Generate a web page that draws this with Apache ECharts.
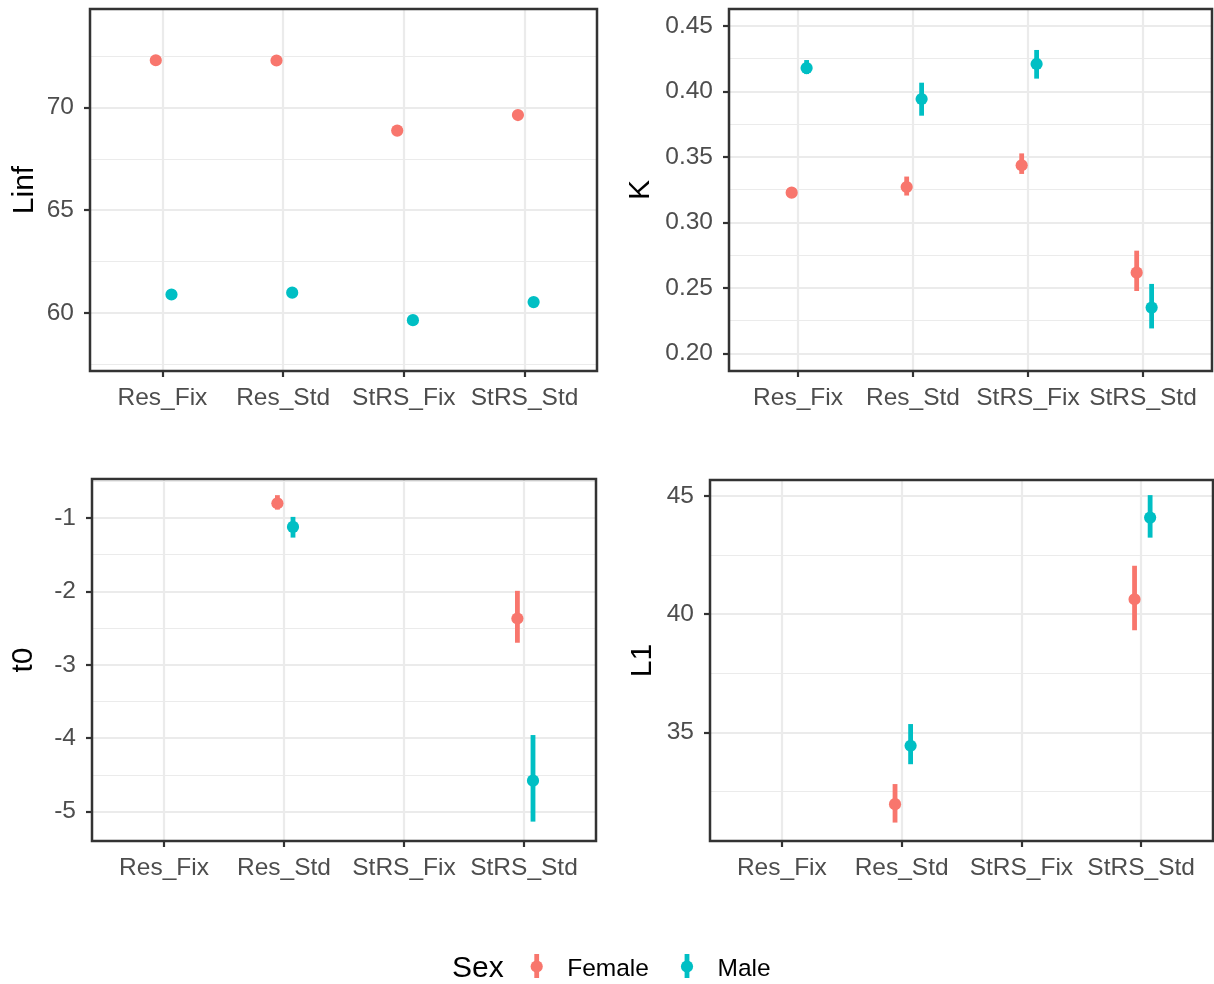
<!DOCTYPE html>
<html>
<head>
<meta charset="utf-8">
<title>Growth parameter estimates by method and sex</title>
<script src="https://cdn.jsdelivr.net/npm/echarts@6/dist/echarts.min.js"></script>
<style>
  html, body { margin: 0; padding: 0; background: #ffffff; }
  #chart { width: 1214px; height: 984px; }
</style>
</head>
<body>
<div id="chart"></div>
<script>
// Estimation methods (x categories)
const methods = ['Res_Fix', 'Res_Std', 'StRS_Fix', 'StRS_Std'];
const sexes = ['Female', 'Male'];

// Linf estimates
const linfFemale = [72.31, 72.30, 68.88, 69.64];
const linfMale   = [60.89, 60.98, 59.64, 60.52];

// K estimates with interval bounds
const kFemale     = [0.3227, 0.3270, 0.3436, 0.2616];
const kFemaleLow  = [0.3205, 0.3205, 0.3370, 0.2476];
const kFemaleHigh = [0.3250, 0.3350, 0.3527, 0.2784];
const kMale       = [0.4179, 0.3942, 0.4210, 0.2349];
const kMaleLow    = [0.4133, 0.3815, 0.4098, 0.2190];
const kMaleHigh   = [0.4240, 0.4067, 0.4317, 0.2530];

// t0 estimates with interval bounds (only the Std methods estimate it)
const t0Female     = [null, -0.800, null, -2.370];
const t0FemaleLow  = [null, -0.887, null, -2.700];
const t0FemaleHigh = [null, -0.690, null, -1.993];
const t0Male       = [null, -1.122, null, -4.578];
const t0MaleLow    = [null, -1.268, null, -5.136];
const t0MaleHigh   = [null, -0.986, null, -3.957];

// L1 estimates with interval bounds
const l1Female     = [null, 31.96, null, 40.63];
const l1FemaleLow  = [null, 31.18, null, 39.32];
const l1FemaleHigh = [null, 32.81, null, 42.05];
const l1Male       = [null, 34.43, null, 44.09];
const l1MaleLow    = [null, 33.65, null, 43.24];
const l1MaleHigh   = [null, 35.35, null, 45.04];

// Tick labels of each y axis
const linfTicks = [60, 65, 70];
const kTicks    = [0.20, 0.25, 0.30, 0.35, 0.40, 0.45];
const t0Ticks   = [-5, -4, -3, -2, -1];
const l1Ticks   = [35, 40, 45];

const sexColors = { Female: '#F8766D', Male: '#00BFC4' };
const dodge = { Female: -0.055, Male: 0.075 };
const FONT = '"Liberation Sans", Arial, Helvetica, sans-serif';
const TICK_FONT = 24.5;
const TITLE_FONT = 30;
const POINT_R = 6.1;
const BAR_W = 4.8;

const panels = [
  { name: 'Linf', rect: [90, 9, 507, 362], range: [57.16, 74.81], ticks: linfTicks, digits: 0, nameGap: 50,
    series: { Female: [linfFemale], Male: [linfMale] } },
  { name: 'K', rect: [729, 9, 483, 362], range: [0.18648, 0.46299], ticks: kTicks, digits: 2, nameGap: 73,
    series: { Female: [kFemale, kFemaleLow, kFemaleHigh], Male: [kMale, kMaleLow, kMaleHigh] } },
  { name: 't0', rect: [92, 479, 504, 362], range: [-5.40, -0.47], ticks: t0Ticks, digits: 0, nameGap: 53,
    series: { Female: [t0Female, t0FemaleLow, t0FemaleHigh], Male: [t0Male, t0MaleLow, t0MaleHigh] } },
  { name: 'L1', rect: [710, 480, 503, 361], range: [30.4, 45.68], ticks: l1Ticks, digits: 0, nameGap: 52,
    series: { Female: [l1Female, l1FemaleLow, l1FemaleHigh], Male: [l1Male, l1MaleLow, l1MaleHigh] } }
];

// Minor grid positions halfway between major ticks, kept inside the axis range
function minorBreaks(ticks, range) {
  const step = ticks[1] - ticks[0];
  const out = [];
  const ext = [ticks[0] - step].concat(ticks, [ticks[ticks.length - 1] + step]);
  for (let i = 0; i < ext.length - 1; i++) {
    const m = (ext[i] + ext[i + 1]) / 2;
    if (m > range[0] && m < range[1]) out.push(+m.toFixed(6));
  }
  return out;
}

// Point with a vertical interval bar, shifted sideways by the dodge offset
function pointRange(offset, color) {
  return function (params, api) {
    const x = api.value(0) + offset;
    const mid = api.coord([x, api.value(1)]);
    const children = [];
    const lo = api.value(2), hi = api.value(3);
    if (isFinite(lo) && isFinite(hi)) {
      const a = api.coord([x, lo]);
      const b = api.coord([x, hi]);
      children.push({
        type: 'line',
        shape: { x1: a[0], y1: a[1], x2: b[0], y2: b[1] },
        style: { stroke: color, lineWidth: BAR_W, lineCap: 'butt' }
      });
    }
    children.push({
      type: 'circle',
      shape: { cx: mid[0], cy: mid[1], r: POINT_R },
      style: { fill: color }
    });
    return { type: 'group', children: children };
  };
}

const grid = [], xAxis = [], yAxis = [], series = [], graphic = [];

panels.forEach(function (p, i) {
  const [left, top, width, height] = p.rect;
  grid.push({ left: left, top: top, width: width, height: height, show: false,
    containLabel: false, outerBoundsMode: 'none' });

  xAxis.push({
    gridIndex: i, type: 'value', min: -0.6, max: 3.6, position: 'bottom',
    axisLine: { show: false },
    axisTick: { show: true, length: 6, customValues: [0, 1, 2, 3],
      lineStyle: { color: '#333333', width: 2.2 } },
    axisLabel: { show: true, customValues: [0, 1, 2, 3], margin: 15,
      formatter: function (v) { return methods[Math.round(v)]; },
      color: '#4D4D4D', fontSize: TICK_FONT, fontFamily: FONT },
    splitLine: { show: true, lineStyle: { color: '#EBEBEB', width: 2.2 } }
  });

  // minor horizontal grid
  yAxis.push({
    gridIndex: i, type: 'value', min: p.range[0], max: p.range[1], position: 'left',
    axisLine: { show: false },
    axisTick: { show: false, customValues: minorBreaks(p.ticks, p.range) },
    axisLabel: { show: false, customValues: minorBreaks(p.ticks, p.range) },
    splitLine: { show: true, lineStyle: { color: '#EBEBEB', width: 1.2 } }
  });
  // major axis
  yAxis.push({
    gridIndex: i, type: 'value', min: p.range[0], max: p.range[1], position: 'left', offset: 0,
    name: p.name, nameLocation: 'middle', nameGap: p.nameGap,
    nameTextStyle: { color: '#000000', fontSize: TITLE_FONT, fontFamily: FONT },
    axisLine: { show: false },
    axisTick: { show: true, length: 6, customValues: p.ticks,
      lineStyle: { color: '#333333', width: 2.2 } },
    axisLabel: { show: true, customValues: p.ticks, margin: 16,
      formatter: function (v) { return v.toFixed(p.digits); },
      color: '#4D4D4D', fontSize: TICK_FONT, fontFamily: FONT },
    splitLine: { show: true, lineStyle: { color: '#EBEBEB', width: 2.2 } }
  });

  sexes.forEach(function (sex) {
    const cols = p.series[sex];
    const data = [];
    methods.forEach(function (m, j) {
      const est = cols[0][j];
      if (est === null || est === undefined) return;
      const lo = cols[1] ? cols[1][j] : NaN;
      const hi = cols[2] ? cols[2][j] : NaN;
      data.push([j, est, lo, hi]);
    });
    series.push({
      name: sex, type: 'custom',
      xAxisIndex: i, yAxisIndex: 2 * i + 1,
      renderItem: pointRange(dodge[sex], sexColors[sex]),
      encode: { x: 0, y: [1, 2, 3] },
      itemStyle: { color: sexColors[sex] },
      data: data, z: 5, silent: true
    });
  });

  // panel frame
  graphic.push({
    type: 'rect', z: 50,
    shape: { x: left, y: top, width: width, height: height },
    style: { fill: null, stroke: '#333333', lineWidth: 2.5 }
  });
});

// Legend: "Sex" with a point-range key per level
const legendX = { Female: 536.7, Male: 687 };
graphic.push({
  type: 'text', z: 50, x: 452, y: 969,
  style: { text: 'Sex', fill: '#000000', fontSize: TITLE_FONT, fontFamily: FONT, verticalAlign: 'middle', align: 'left' }
});
sexes.forEach(function (sex) {
  const cx = legendX[sex];
  graphic.push({
    type: 'line', z: 50,
    shape: { x1: cx, y1: 954, x2: cx, y2: 978 },
    style: { stroke: sexColors[sex], lineWidth: BAR_W }
  });
  graphic.push({
    type: 'circle', z: 51,
    shape: { cx: cx, cy: 966.5, r: POINT_R },
    style: { fill: sexColors[sex] }
  });
  graphic.push({
    type: 'text', z: 50, x: cx + 30.5, y: 969,
    style: { text: sex, fill: '#000000', fontSize: TICK_FONT, fontFamily: FONT, verticalAlign: 'middle', align: 'left' }
  });
});

const chart = echarts.init(document.getElementById('chart'), null, { renderer: 'canvas' });
chart.setOption({
  animation: false,
  backgroundColor: '#ffffff',
  grid: grid,
  xAxis: xAxis,
  yAxis: yAxis,
  series: series,
  graphic: graphic
});
</script>
</body>
</html>
